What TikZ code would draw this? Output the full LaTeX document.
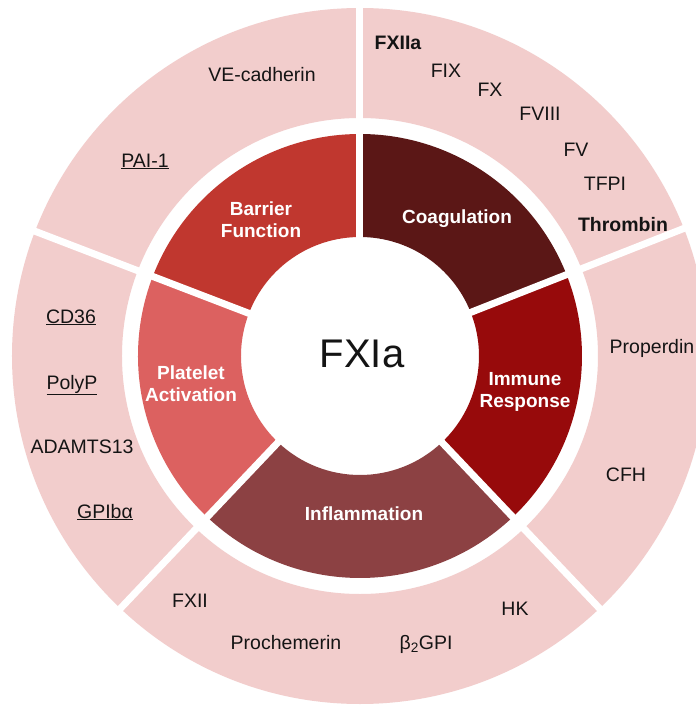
\documentclass[tikz,border=0pt]{standalone}
\usepackage{fontspec}
\setmainfont{Liberation Sans}
\definecolor{ringpink}{HTML}{F2CDCC}
\definecolor{barriercol}{HTML}{C0372F}
\definecolor{coagcol}{HTML}{5B1716}
\definecolor{immunecol}{HTML}{970A0B}
\definecolor{inflamcol}{HTML}{8C4143}
\definecolor{plateletcol}{HTML}{DC6160}
\definecolor{inktext}{HTML}{141414}
% annular sector: colour, start angle, end angle, inner radius, outer radius
\newcommand{\ringsector}[5]{%
  \fill[#1] (#2:#4pt) arc[start angle=#2, end angle=#3, radius=#4pt]
    -- (#3:#5pt) arc[start angle=#3, end angle=#2, radius=#5pt] -- cycle;}
\begin{document}
\begin{tikzpicture}[x=1pt,y=1pt,
  lbl/.style={anchor=base, inner sep=0pt, text=inktext, font=\fontsize{19.5}{23}\selectfont},
  boldlbl/.style={lbl, font=\fontsize{19.5}{23}\selectfont\bfseries},
  seglbl/.style={anchor=base, inner sep=0pt, text=white, font=\fontsize{19}{23}\selectfont\bfseries},
  gapline/.style={draw=white, line width=7pt}]
\fill[white] (-360,-349) rectangle (336,356);
\useasboundingbox (-360,-349) rectangle (336,356);

% outer ring of partners
\fill[ringpink, even odd rule] (0,0) circle[radius=348pt] (0,0) circle[radius=238pt];

% inner ring of functions
\ringsector{coagcol}{90}{21.5}{119}{222}
\ringsector{immunecol}{21.5}{-46.5}{119}{222}
\ringsector{inflamcol}{-46.5}{-133.5}{119}{222}
\ringsector{plateletcol}{-133.5}{-201}{119}{222}
\ringsector{barriercol}{159}{90}{119}{222}

% white separators between the sectors
\foreach \a in {90,21.5,-46.5,-133.5,159}
  \draw[gapline] (0,0) -- (\a:352pt);

% centre
\node[anchor=base, inner sep=0pt, text=inktext, font=\fontsize{40}{44}\selectfont] (fxia) at (2,-11) {FXIa};

% function labels
\node[seglbl] (barrierA) at (-99,141) {Barrier};
\node[seglbl] (barrierB) at (-99,119) {Function};
\node[seglbl] (coag) at (97,133) {Coagulation};
\node[seglbl] (immuneA) at (165,-29) {Immune};
\node[seglbl] (immuneB) at (165,-51) {Response};
\node[seglbl] (inflam) at (4,-164) {Inflammation};
\node[seglbl] (plateletA) at (-169,-23) {Platelet};
\node[seglbl] (plateletB) at (-169,-45) {Activation};

% barrier function partners
\node[lbl] (vecad) at (-98,274) {VE-cadherin};
\node[lbl] (pai) at (-215,189) {\underline{PAI-1}};

% coagulation partners
\node[boldlbl] (fxiia) at (38,306) {FXIIa};
\node[lbl] (fix) at (86,279) {FIX};
\node[lbl] (fx) at (130,259) {FX};
\node[lbl] (fviii) at (180,236) {FVIII};
\node[lbl] (fv) at (216,200) {FV};
\node[lbl] (tfpi) at (245,166) {TFPI};
\node[boldlbl] (thrombin) at (263,125) {Thrombin};

% immune response partners
\node[lbl] (properdin) at (292,3) {Properdin};
\node[lbl] (cfh) at (266,-125) {CFH};

% inflammation partners
\node[lbl] (hk) at (155,-259) {HK};
\node[lbl] (b2gpi) at (66,-293) {β\textsubscript{2}GPI};
\node[lbl] (prochem) at (-74,-293) {Prochemerin};
\node[lbl] (fxii) at (-170,-251) {FXII};

% platelet activation partners
\node[lbl] (cd36) at (-289,33) {\underline{CD36}};
\node[lbl] (polyp) at (-288,-33) {\underline{PolyP}};
\node[lbl] (adamts) at (-278,-97) {ADAMTS13};
\node[lbl] (gpib) at (-255,-162) {\underline{GPIbα}};
\end{tikzpicture}
\end{document}
